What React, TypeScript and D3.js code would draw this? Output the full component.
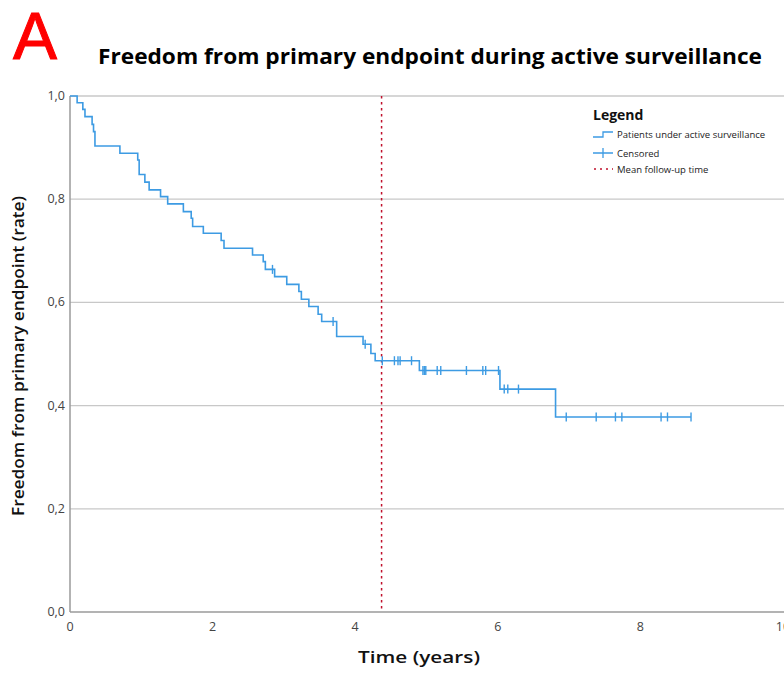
import React, { useRef, useEffect } from 'react';
import * as d3 from 'd3';

// Kaplan-Meier step points (time in years, survival after the drop)
const eventTimes = [0, 0.10, 0.18, 0.21, 0.31, 0.33, 0.35, 0.70, 0.95, 0.97, 1.05, 1.11, 1.27, 1.37, 1.59, 1.70, 1.72, 1.87, 2.12, 2.16, 2.56, 2.71, 2.74, 2.87, 3.04, 3.21, 3.245, 3.35, 3.48, 3.53, 3.74, 4.11, 4.22, 4.28, 4.90, 6.03, 6.81];
const survival = [1.0, 0.987, 0.974, 0.960, 0.945, 0.931, 0.903, 0.889, 0.876, 0.848, 0.833, 0.818, 0.805, 0.791, 0.776, 0.763, 0.747, 0.734, 0.720, 0.705, 0.692, 0.679, 0.664, 0.650, 0.635, 0.621, 0.606, 0.592, 0.577, 0.563, 0.534, 0.519, 0.501, 0.487, 0.468, 0.432, 0.378];
const lastTime = 8.71;

// censored observations
const censorTimes = [2.84, 3.69, 4.14, 4.38, 4.55, 4.60, 4.63, 4.79, 4.95, 4.97, 4.99, 5.15, 5.20, 5.56, 5.79, 5.83, 6.01, 6.09, 6.14, 6.29, 6.96, 7.38, 7.65, 7.74, 8.29, 8.38, 8.71];

const meanFollowUp = 4.37;
const xTicks = [0, 2, 4, 6, 8, 10];
const yTicks = [0, 0.2, 0.4, 0.6, 0.8, 1.0];

const legendItems = ['Patients under active surveillance', 'Censored', 'Mean follow-up time'];

const W = 784;
const H = 673;
const BLUE = '#3d9be3';
const RED = '#c0102c';
const FONT = '"Liberation Sans Narrow", "Open Sans", Arial, sans-serif';

const App = () => {
  const svgRef = useRef<SVGSVGElement>(null);

  useEffect(() => {
    const svg = d3.select(svgRef.current);
    svg.selectAll('*').remove();

    const x = d3.scaleLinear().domain([0, 10]).range([70, 783]);
    const y = d3.scaleLinear().domain([0, 1]).range([612, 96]);

    // gridlines
    svg.append('g')
      .selectAll('line')
      .data(yTicks.filter(d => d > 0))
      .enter().append('line')
        .attr('x1', x(0)).attr('x2', W)
        .attr('y1', d => y(d)).attr('y2', d => y(d))
        .attr('stroke', '#c8c8c8').attr('stroke-width', 1.3);

    // axes lines
    svg.append('line')
      .attr('x1', x(0)).attr('x2', x(0)).attr('y1', y(1)).attr('y2', y(0))
      .attr('stroke', '#9a9a9a').attr('stroke-width', 1.5);
    svg.append('line')
      .attr('x1', x(0)).attr('x2', W).attr('y1', y(0)).attr('y2', y(0))
      .attr('stroke', '#9a9a9a').attr('stroke-width', 1.5);

    // tick labels
    svg.append('g')
      .selectAll('text')
      .data(yTicks)
      .enter().append('text')
        .attr('x', 65).attr('y', d => y(d) + 4)
        .attr('text-anchor', 'end')
        .attr('font-family', FONT).attr('font-size', 12.5).attr('fill', '#444')
        .text(d => d3.format('.1f')(d).replace('.', ','));

    // the "10" label sits on the right edge and is partly cut, as in the source
    svg.append('g')
      .selectAll('text')
      .data(xTicks)
      .enter().append('text')
        .attr('x', d => x(d)).attr('y', 631)
        .attr('text-anchor', 'middle')
        .attr('font-family', FONT).attr('font-size', 12.5).attr('fill', '#444')
        .text(d => String(d));

    // mean follow-up line
    svg.append('line')
      .attr('x1', x(meanFollowUp)).attr('x2', x(meanFollowUp))
      .attr('y1', y(1)).attr('y2', y(0))
      .attr('stroke', RED).attr('stroke-width', 1.5)
      .attr('stroke-dasharray', '2.5,3.5');

    // KM curve
    const pts: [number, number][] = eventTimes.map((t, i) => [t, survival[i]]);
    pts.push([lastTime, survival[survival.length - 1]]);
    const line = d3.line<[number, number]>()
      .x(d => x(d[0]))
      .y(d => y(d[1]))
      .curve(d3.curveStepAfter);
    svg.append('path')
      .attr('d', line(pts))
      .attr('fill', 'none')
      .attr('stroke', BLUE)
      .attr('stroke-width', 1.6);

    // censor marks
    const bis = d3.bisector((d: number) => d).right;
    const survAt = (t: number) => survival[Math.max(0, bis(eventTimes, t) - 1)];
    svg.append('g')
      .selectAll('line')
      .data(censorTimes)
      .enter().append('line')
        .attr('x1', d => x(d)).attr('x2', d => x(d))
        .attr('y1', d => y(survAt(d)) - 4.5).attr('y2', d => y(survAt(d)) + 4.5)
        .attr('stroke', BLUE).attr('stroke-width', 1.4);

    // legend
    const lg = svg.append('g');
    lg.append('text')
      .attr('x', 593).attr('y', 120)
      .attr('font-family', '"Open Sans", sans-serif').attr('font-weight', 700)
      .attr('font-size', 14).attr('fill', '#111')
      .text('Legend');
    const rowY = [134, 153, 169];
    lg.selectAll('text.item')
      .data(legendItems)
      .enter().append('text')
        .attr('class', 'item')
        .attr('x', 617).attr('y', (d, i) => rowY[i] + 3.5)
        .attr('font-family', '"Open Sans", sans-serif')
        .attr('font-size', 9.5).attr('fill', '#222')
        .text(d => d);
    // step icon
    lg.append('path')
      .attr('d', `M593,${rowY[0] + 3}H603V${rowY[0] - 2}H613`)
      .attr('fill', 'none').attr('stroke', BLUE).attr('stroke-width', 1.3);
    // censor icon
    lg.append('path')
      .attr('d', `M593,${rowY[1]}H613M603,${rowY[1] - 5}V${rowY[1] + 5}`)
      .attr('fill', 'none').attr('stroke', BLUE).attr('stroke-width', 1.3);
    // dotted icon
    lg.append('line')
      .attr('x1', 594).attr('x2', 613).attr('y1', rowY[2]).attr('y2', rowY[2])
      .attr('stroke', RED).attr('stroke-width', 1.5).attr('stroke-dasharray', '2,4');

    // panel letter and title
    svg.append('text')
      .attr('x', 13).attr('y', 59)
      .attr('font-family', '"Liberation Sans Narrow", Arial, sans-serif')
      .attr('font-size', 66).attr('fill', '#ff0000')
      .attr('stroke', '#ff0000').attr('stroke-width', 1)
      .text('A');
    svg.append('text')
      .attr('x', 98).attr('y', 64)
      .attr('font-family', '"Open Sans", sans-serif').attr('font-weight', 700)
      .attr('font-size', 21).attr('fill', '#000')
      .attr('textLength', 664).attr('lengthAdjust', 'spacingAndGlyphs')
      .text('Freedom from primary endpoint during active surveillance');

    // axis titles
    svg.append('text')
      .attr('x', 419).attr('y', 663)
      .attr('text-anchor', 'middle')
      .attr('font-family', '"Open Sans", sans-serif').attr('font-weight', 600)
      .attr('font-size', 17).attr('fill', '#111')
      .attr('textLength', 122).attr('lengthAdjust', 'spacingAndGlyphs')
      .text('Time (years)');
    svg.append('text')
      .attr('transform', 'translate(24,356) rotate(-90)')
      .attr('text-anchor', 'middle')
      .attr('font-family', '"Open Sans", sans-serif').attr('font-weight', 600)
      .attr('font-size', 16).attr('fill', '#111')
      .attr('textLength', 320).attr('lengthAdjust', 'spacingAndGlyphs')
      .text('Freedom from primary endpoint (rate)');
  }, []);

  return (
    <svg ref={svgRef} width={W} height={H} style={{ position: 'absolute', left: 0, top: 0, background: '#fff' }}></svg>
  );
};

export default App;
